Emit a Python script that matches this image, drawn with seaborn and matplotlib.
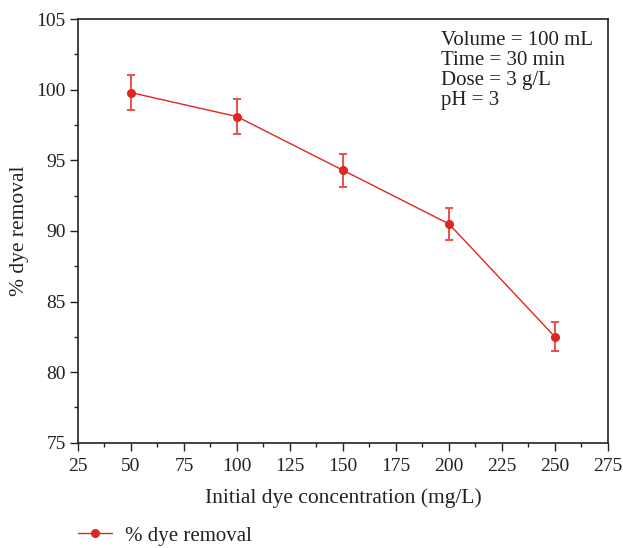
import matplotlib
matplotlib.use("Agg")
import matplotlib.pyplot as plt
import seaborn as sns
import pandas as pd
from matplotlib.ticker import MultipleLocator

conc = [50, 100, 150, 200, 250]
removal = [99.8, 98.1, 94.3, 90.5, 82.5]
err = [1.23, 1.23, 1.17, 1.12, 1.02]
series_name = "% dye removal"

sns.set_theme(style="white")
plt.rcParams['font.family'] = ['Liberation Serif', 'DejaVu Serif']
plt.rcParams['mathtext.fontset'] = 'stix'

df = pd.DataFrame({"conc": conc, "removal": removal, "err": err})
red = "#e0271f"
ink = "#222222"

fig = plt.figure(figsize=(6.23, 5.48), dpi=100)
ax = fig.add_axes([0.1252, 0.192, 0.8507, 0.773])

ax.errorbar(df["conc"], df["removal"], yerr=df["err"], fmt="none",
            ecolor="#e8504a", elinewidth=1.4, capsize=3.2, capthick=1.4, zorder=2)
sns.lineplot(data=df, x="conc", y="removal", ax=ax, color=red, marker="o",
             markersize=6.5, markeredgewidth=0, linewidth=1.0, label=series_name,
             legend=False, zorder=3)

ax.set_xlim(25, 275)
ax.set_ylim(75, 105)
ax.xaxis.set_major_locator(MultipleLocator(25))
ax.xaxis.set_minor_locator(MultipleLocator(12.5))
ax.yaxis.set_major_locator(MultipleLocator(5))
ax.yaxis.set_minor_locator(MultipleLocator(2.5))
ax.tick_params(axis="both", which="major", direction="out", length=5.8, width=1,
               labelsize=14, colors=ink, bottom=True, left=True, pad=3)
ax.tick_params(axis="x", which="major", pad=5)
ax.tick_params(axis="both", which="minor", direction="out", length=3, width=1,
               colors=ink, bottom=True, left=True)
for s in ax.spines.values():
    s.set_color(ink)
    s.set_linewidth(1.2)

ax.set_xlabel("Initial dye concentration (mg/L)", fontsize=15.5, color=ink, labelpad=9.5)
ax.set_ylabel("% dye removal", fontsize=15.5, color=ink)
ax.yaxis.set_label_coords(-0.092, 0.5)

ax.text(0.685, 0.971, "Volume = 100 mL\nTime = 30 min\nDose = 3 g/L\npH = 3",
        transform=ax.transAxes, ha="left", va="top", fontsize=15,
        color=ink, linespacing=1.05)

handles, labels = ax.get_legend_handles_labels()
fig.legend(handles, labels, loc="center left", bbox_to_anchor=(0.095, 0.022),
           frameon=False, fontsize=15, handlelength=1.65, handletextpad=0.6,
           labelcolor=ink)

fig.savefig("out.png", dpi=100)
